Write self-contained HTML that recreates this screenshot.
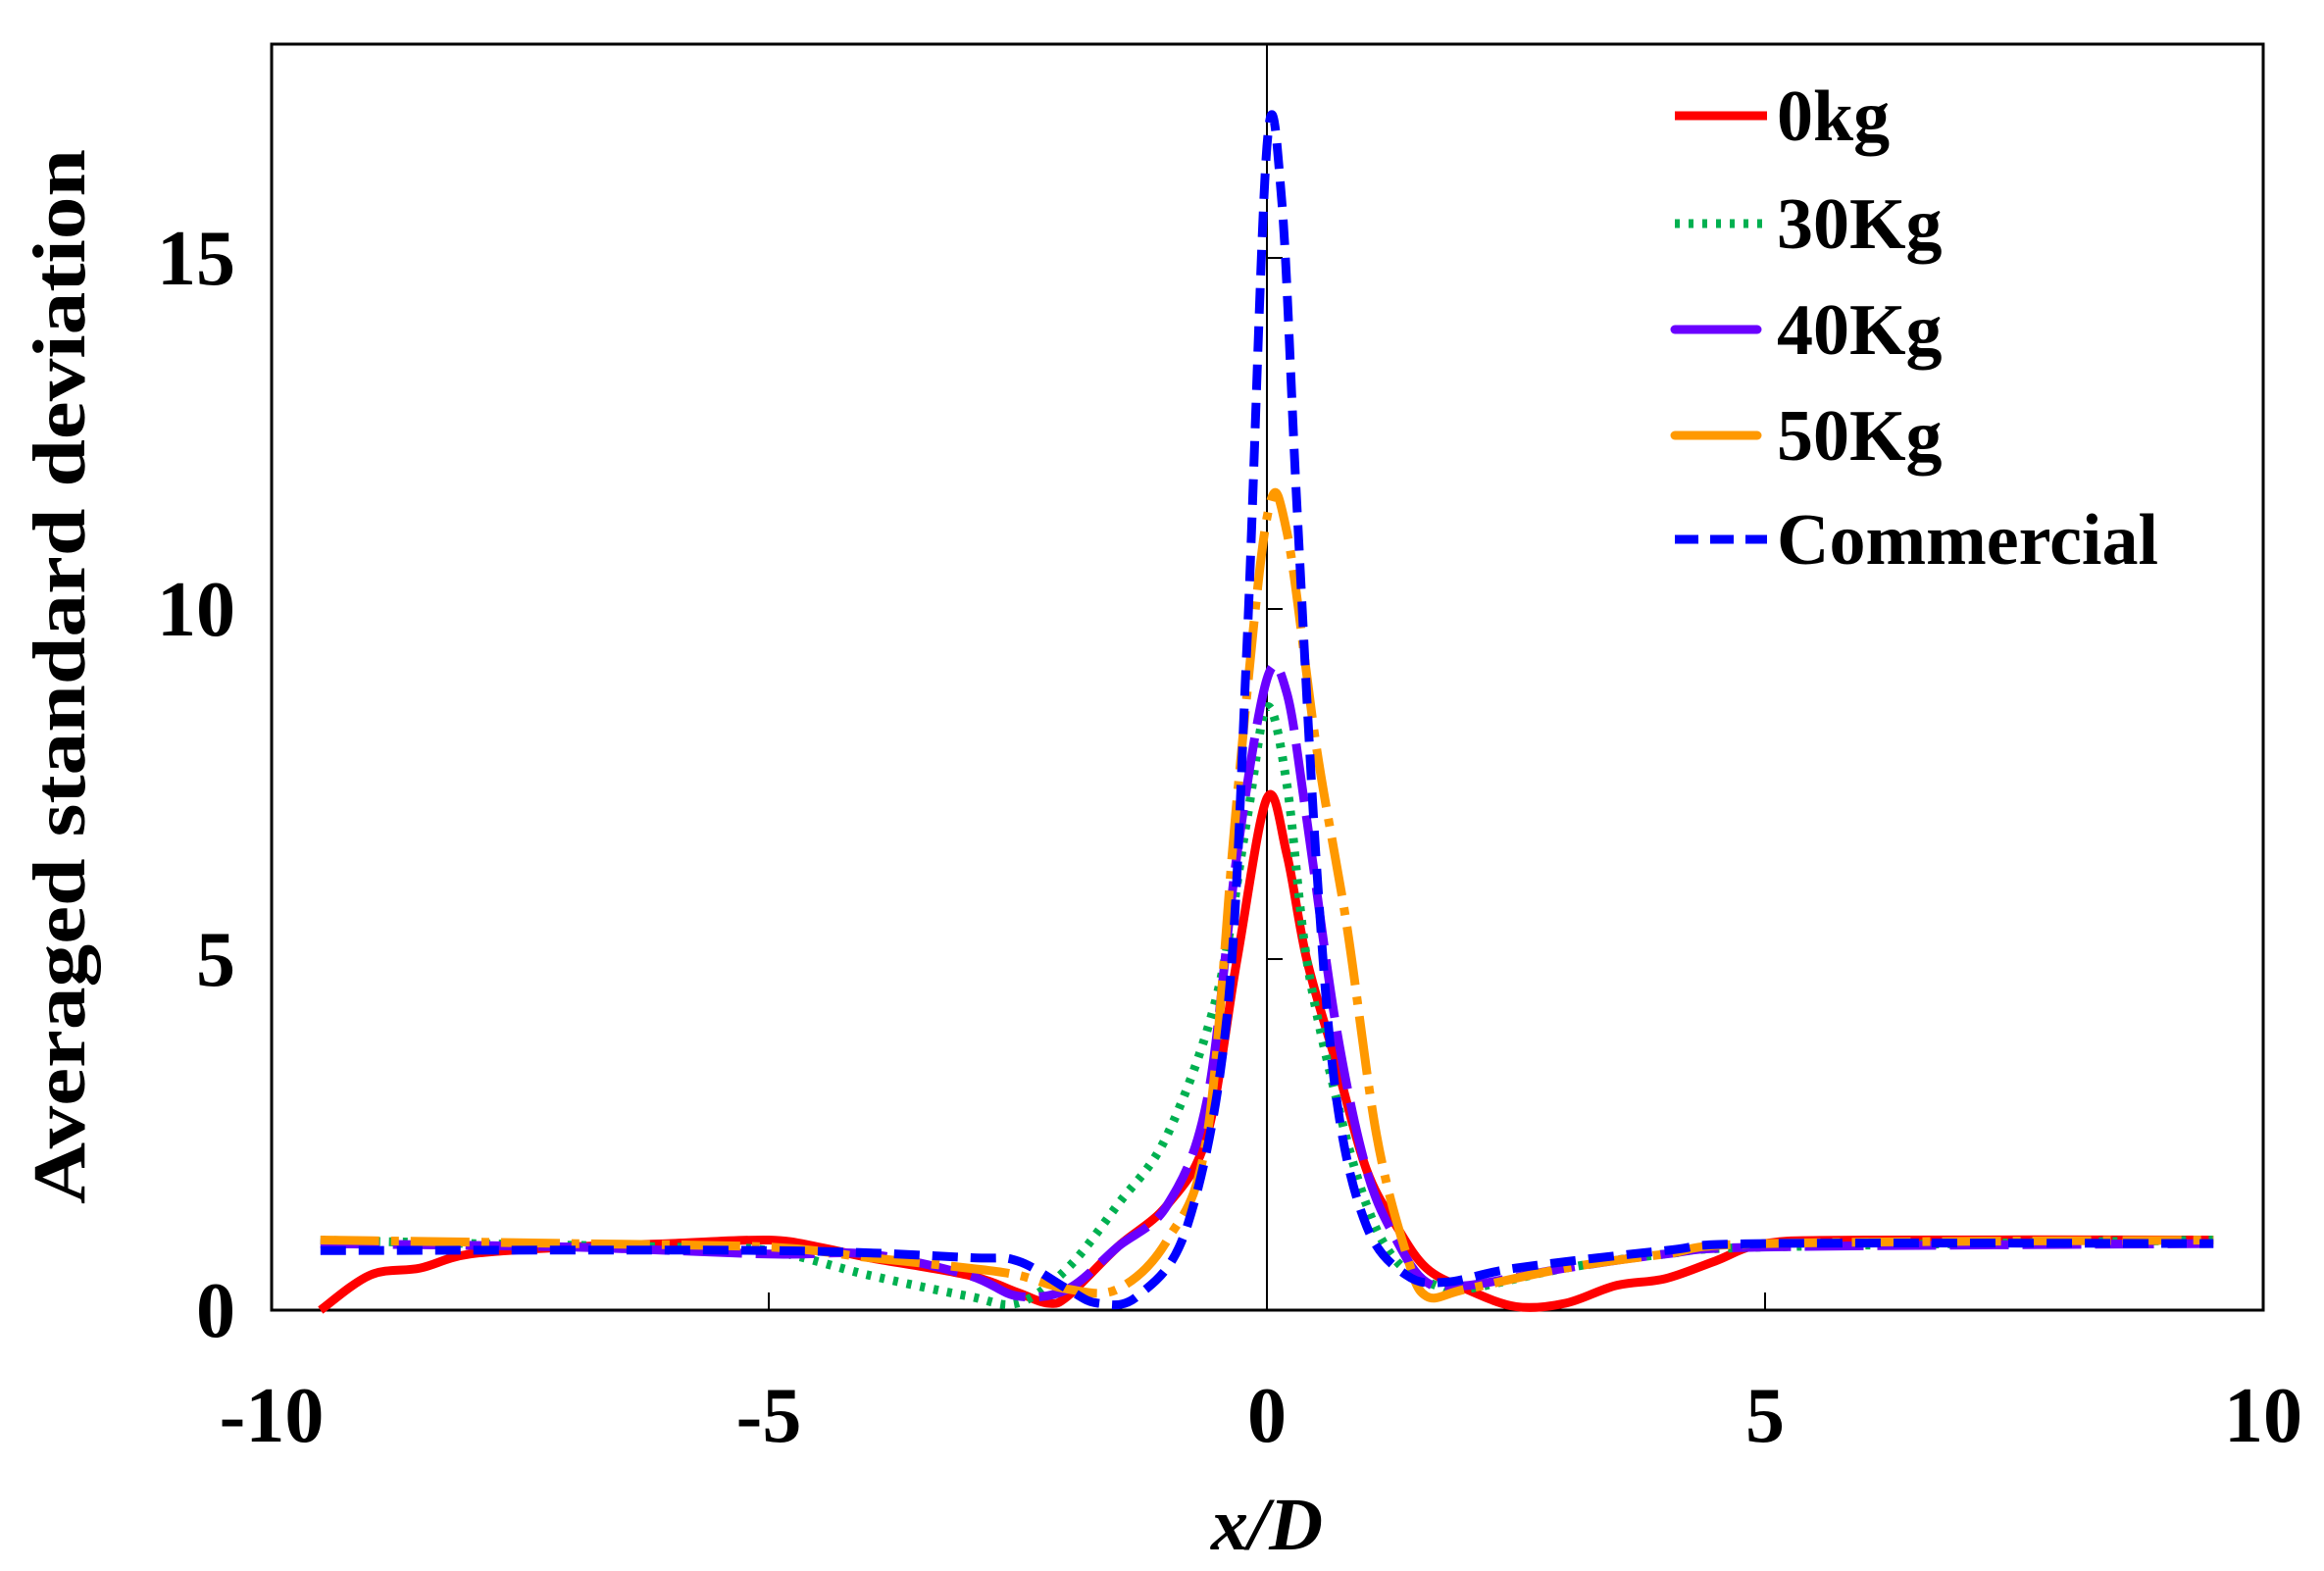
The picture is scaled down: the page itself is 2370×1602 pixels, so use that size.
<!DOCTYPE html>
<html><head><meta charset="utf-8"><style>
html,body{margin:0;padding:0;background:#fff;}
svg{display:block;}
text{font-family:"Liberation Serif",serif;font-weight:bold;fill:#000;}
</style></head><body>
<svg id="s" width="2370" height="1602" viewBox="0 0 2370 1602" xmlns="http://www.w3.org/2000/svg">
<rect x="277" y="45" width="2031" height="1291" fill="none" stroke="#000" stroke-width="3"/>
<line x1="1292" y1="45" x2="1292" y2="1336" stroke="#000" stroke-width="2"/>
<g stroke="#000" stroke-width="2">
<line x1="1292" y1="978" x2="1308" y2="978"/><line x1="1292" y1="621" x2="1308" y2="621"/><line x1="1292" y1="263" x2="1308" y2="263"/>
<line x1="784" y1="1336" x2="784" y2="1318"/><line x1="1800" y1="1336" x2="1800" y2="1318"/>
</g>
<g font-size="80" text-anchor="middle">
<text x="277" y="1470">-10</text><text x="784" y="1470">-5</text><text x="1292" y="1470">0</text><text x="1800" y="1470">5</text><text x="2308" y="1470">10</text>
</g>
<g font-size="80" text-anchor="end">
<text x="240" y="1363">0</text><text x="240" y="1005">5</text><text x="240" y="648">10</text><text x="240" y="290">15</text>
</g>
<text x="1292" y="1580" font-size="76" font-style="italic" text-anchor="middle">x/D</text>
<text transform="translate(86,690) rotate(-90)" font-size="76" text-anchor="middle" textLength="1076" lengthAdjust="spacingAndGlyphs">Averaged standard deviation</text>
<g id="curves" fill="none" stroke-width="9"></g>
<g stroke-width="9">
<line x1="1708" y1="118" x2="1802" y2="118" stroke="#ff0000"/>
<line x1="1708" y1="228" x2="1802" y2="228" stroke="#00b050" stroke-dasharray="5 9"/>
<line x1="1708" y1="336" x2="1792" y2="336" stroke="#6a00ff" stroke-linecap="round"/>
<line x1="1708" y1="444" x2="1792" y2="444" stroke="#ff9900" stroke-linecap="round"/>
<line x1="1708" y1="550" x2="1802" y2="550" stroke="#0000ff" stroke-dasharray="24 12"/>
</g>
<g font-size="74">
<text x="1812" y="143">0kg</text><text x="1812" y="253">30Kg</text><text x="1812" y="361">40Kg</text><text x="1812" y="469">50Kg</text><text x="1812" y="575">Commercial</text>
</g>
</svg>
<script>
function X(x){return 1292+x*101.6;}function Y(y){return 1336-y*71.5;}
function path(pts){var p=pts.map(function(a){return [X(a[0]),Y(a[1])];});var d="M"+p[0][0]+","+p[0][1];
for(var i=0;i<p.length-1;i++){var p0=p[i-1]||p[i],p1=p[i],p2=p[i+1],p3=p[i+2]||p2;
d+=" C"+(p1[0]+(p2[0]-p0[0])/6)+","+(p1[1]+(p2[1]-p0[1])/6)+" "+(p2[0]-(p3[0]-p1[0])/6)+","+(p2[1]-(p3[1]-p1[1])/6)+" "+p2[0]+","+p2[1];}return d;}
var S=[
{c:"#ff0000",d:"",p:[[-9.5,0],[-9,0.5],[-8.5,0.6],[-8,0.8],[-7,0.9],[-6,0.95],[-5,1.0],[-4.5,0.9],[-4,0.75],[-3,0.5],[-2.5,0.25],[-2.2,0.1],[-2,0.2],[-1.5,0.9],[-1,1.5],[-0.6,2.5],[-0.3,5],[0,7.3],[0.2,6.5],[0.4,5],[0.7,3.5],[1,2],[1.3,1.2],[1.6,0.6],[2,0.3],[2.5,0.05],[3,0.1],[3.5,0.35],[4,0.45],[4.5,0.7],[5,0.95],[6,1.0],[9.5,1.0]]},
{c:"#00b050",d:"5 9",p:[[-9.5,1.0],[-8,0.95],[-6,0.9],[-5,0.85],[-4,0.5],[-3,0.2],[-2.5,0.1],[-2,0.6],[-1.5,1.5],[-1,2.5],[-0.5,4.5],[-0.2,7],[0,8.6],[0.2,7.5],[0.4,5],[0.7,3],[1,1.5],[1.3,0.7],[1.7,0.35],[2,0.3],[3,0.6],[4,0.8],[5,0.9],[9.5,1.0]]},
{c:"#6a00ff",d:"60 14",p:[[-9.5,0.95],[-7,0.9],[-5,0.8],[-4,0.8],[-3,0.5],[-2.5,0.2],[-2,0.3],[-1.5,0.9],[-1,1.5],[-0.6,3],[-0.3,6.5],[0,9.0],[0.2,8.8],[0.4,7],[0.7,4],[1,2],[1.3,1],[1.6,0.4],[2,0.35],[3,0.6],[4,0.8],[5,0.9],[9.5,0.95]]},
{c:"#ff9900",d:"60 12 8 12",p:[[-9.5,1.0],[-7,0.95],[-5,0.9],[-4,0.75],[-3,0.6],[-2.5,0.5],[-2,0.3],[-1.5,0.3],[-1,1.0],[-0.6,2.5],[-0.3,7.3],[0,11.3],[0.2,11.1],[0.5,8],[0.8,5.5],[1.1,2.5],[1.4,0.8],[1.6,0.2],[2,0.3],[3,0.6],[4,0.8],[5,0.95],[9.5,1.0]]},
{c:"#0000ff",d:"26 13",p:[[-9.5,0.85],[-5,0.85],[-3,0.75],[-2.5,0.7],[-2,0.3],[-1.7,0.1],[-1.3,0.2],[-0.8,1.2],[-0.4,4.2],[-0.2,9.5],[0,16.6],[0.15,15.8],[0.3,11.5],[0.5,6.3],[0.7,3],[1,1.2],[1.4,0.5],[1.8,0.4],[2.5,0.6],[4,0.85],[5,0.95],[9.5,0.95]]}];
var g=document.getElementById("curves"),h="";
S.forEach(function(s){h+='<path d="'+path(s.p)+'" stroke="'+s.c+'"'+(s.d?' stroke-dasharray="'+s.d+'"':'')+'/>';});
g.innerHTML=h;
</script>
</body></html>
